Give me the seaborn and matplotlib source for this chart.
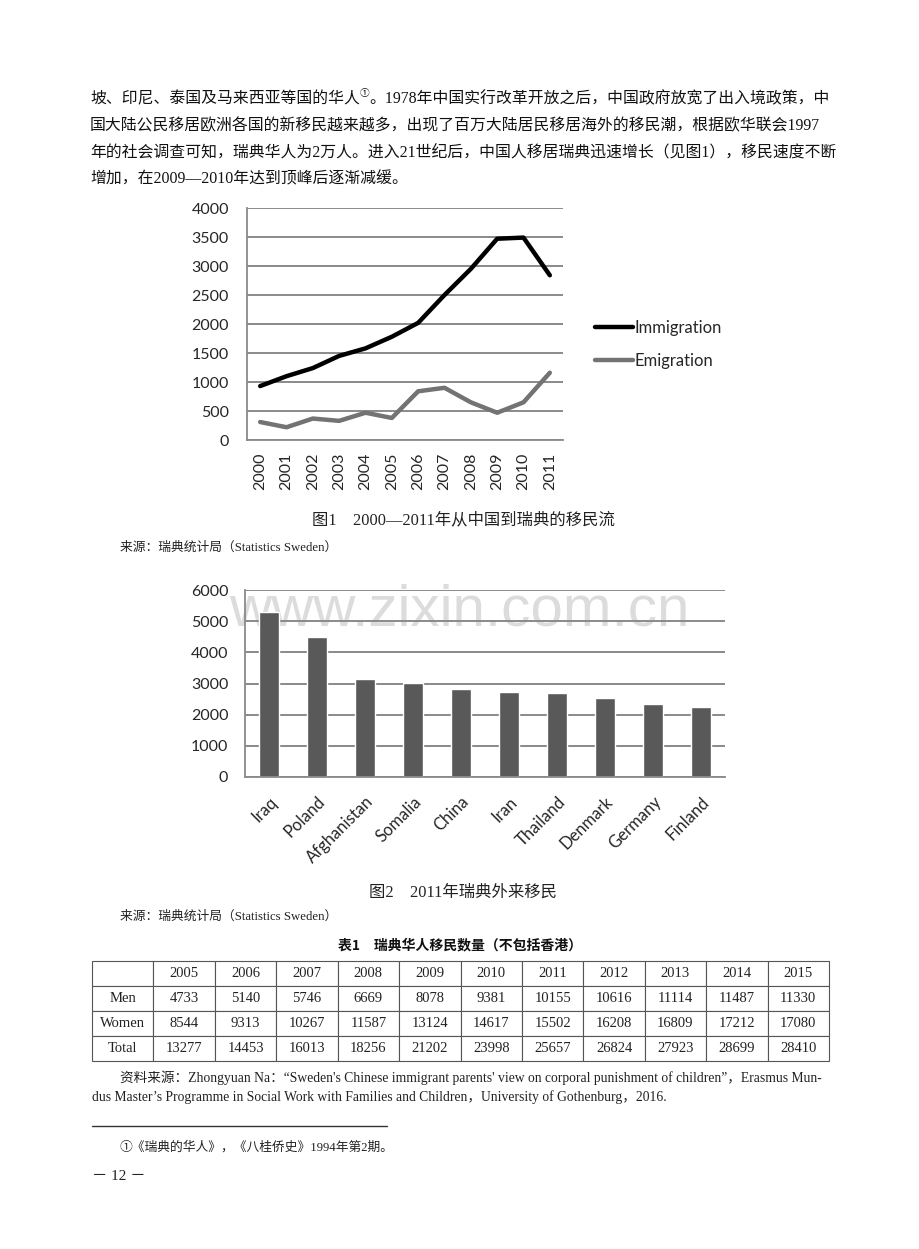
import numpy as np
import pandas as pd
import matplotlib
matplotlib.use("Agg")
import matplotlib.pyplot as plt
import seaborn as sns
from matplotlib.lines import Line2D

# ---------------- data ----------------
years = [2000, 2001, 2002, 2003, 2004, 2005, 2006, 2007, 2008, 2009, 2010, 2011]
immigration = [930, 1100, 1240, 1450, 1580, 1780, 2020, 2500, 2950, 3470, 3490, 2840]
emigration = [310, 220, 370, 330, 470, 380, 840, 900, 650, 470, 650, 1160]

countries = ["Iraq", "Poland", "Afghanistan", "Somalia", "China", "Iran",
             "Thailand", "Denmark", "Germany", "Finland"]
immigrants_2011 = [5300, 4480, 3160, 3010, 2820, 2730, 2680, 2550, 2350, 2260]

table_years = ["2005", "2006", "2007", "2008", "2009", "2010", "2011",
               "2012", "2013", "2014", "2015"]
men = [4733, 5140, 5746, 6669, 8078, 9381, 10155, 10616, 11114, 11487, 11330]
women = [8544, 9313, 10267, 11587, 13124, 14617, 15502, 16208, 16809, 17212, 17080]
total = [13277, 14453, 16013, 18256, 21202, 23998, 25657, 26824, 27923, 28699, 28410]

para_lines = [
    "国大陆公民移居欧洲各国的新移民越来越多，出现了百万大陆居民移居海外的移民潮，根据欧华联会1997",
    "年的社会调查可知，瑞典华人为2万人。进入21世纪后，中国人移居瑞典迅速增长（见图1），移民速度不断",
    "增加，在2009—2010年达到顶峰后逐渐减缓。",
]

# ---------------- style ----------------
sns.set_theme(style="white")
plt.rcParams["font.family"] = ["Lato", "Noto Sans CJK SC"]
SERIF = ["Liberation Serif", "Noto Sans CJK SC"]
CHART = ["Lato", "DejaVu Sans"]
GRID = "#8a8a8a"

W, H = 920, 1249
fig = plt.figure(figsize=(W / 100, H / 100), dpi=100)
bg = fig.add_axes([0, 0, 1, 1])
bg.set_axis_off()
bg.set_xlim(0, 1)
bg.set_ylim(0, 1)
bg.set_autoscale_on(False)
FT = fig.transFigure


def fx(x):
    return x / W


def fy(y):
    return 1 - y / H


def ftext(x, y, s, **kw):
    return bg.text(fx(x), fy(y), s, transform=FT, **kw)


# ---------------- paragraph ----------------
BODY = 11.4
a = ftext(90, 103, "坡、印尼、泰国及马来西亚等国的华人", fontsize=BODY,
          family=SERIF, va="baseline", ha="left", color="#111")
b = bg.annotate("①", xy=(1, 0.55), xycoords=a, fontsize=7, family=SERIF,
                va="bottom", ha="left", color="#111")
bg.annotate("。1978年中国实行改革开放之后，中国政府放宽了出入境政策，中",
            xy=(1, 0), xycoords=(b, a), fontsize=BODY, family=SERIF,
            va="bottom", ha="left", color="#111")
for i, line in enumerate(para_lines):
    ftext(90, 130 + 26.7 * i, line, fontsize=BODY, family=SERIF,
          va="baseline", ha="left", color="#111")

# ---------------- figure 1: line chart ----------------
ax1 = fig.add_axes([fx(247), fy(440), (563 - 247) / W, (440 - 208) / H])
df1 = pd.DataFrame({"year": years, "Immigration": immigration, "Emigration": emigration})
sns.lineplot(data=df1, x="year", y="Immigration", ax=ax1, color="black", lw=3.2,
             label="Immigration")
sns.lineplot(data=df1, x="year", y="Emigration", ax=ax1, color="#737373", lw=3.2,
             label="Emigration")
ax1.set_xlim(years[0] - 0.5, years[-1] + 0.5)
ax1.set_ylim(0, 4000)
ax1.set_yticks(np.arange(0, 4001, 500))
ax1.set_xticks(years)
ax1.set_xticklabels([str(y) for y in years], rotation=90, fontsize=11.5, family=CHART)
ax1.set_xticks(np.arange(years[0] - 0.5, years[-1] + 1), minor=True)
ax1.tick_params(axis="x", which="major", length=0, pad=9)
ax1.tick_params(axis="x", which="minor", length=5, width=1.2, color=GRID, direction="out")
ax1.tick_params(axis="y", length=5, width=1.2, color=GRID, direction="out", pad=8,
                labelsize=11.5)
for lab in ax1.get_yticklabels():
    lab.set_family(CHART)
ax1.set_axisbelow(True)
ax1.yaxis.grid(True, color=GRID, lw=1.4)
ax1.xaxis.grid(False)
for s in ["top", "right"]:
    ax1.spines[s].set_visible(False)
for s in ["left", "bottom"]:
    ax1.spines[s].set_color(GRID)
    ax1.spines[s].set_linewidth(1.3)
ax1.set_xlabel("")
ax1.set_ylabel("")
handles = [Line2D([], [], color="black", lw=3.2), Line2D([], [], color="#737373", lw=3.2)]
ax1.legend(handles, ["Immigration", "Emigration"], loc="center left",
           bbox_to_anchor=(fx(595), fy(344.5)), bbox_transform=FT,
           frameon=False, prop={"family": CHART, "size": 12}, handlelength=2.3,
           handletextpad=0.1, labelspacing=1.05, borderpad=0, borderaxespad=0)

ftext(463, 520, "图1　2000—2011年从中国到瑞典的移民流", fontsize=11.8,
      family=SERIF, ha="center", va="center", color="#222")
ftext(120, 548, "来源：瑞典统计局（Statistics Sweden）", fontsize=9.2,
      family=SERIF, ha="left", va="center", color="#222")

# ---------------- figure 2: bar chart ----------------
ax2 = fig.add_axes([fx(245), fy(777), (725 - 245) / W, (777 - 590) / H])
df2 = pd.DataFrame({"country": countries, "n": immigrants_2011})
sns.barplot(data=df2, x="country", y="n", ax=ax2, color="#595959", width=0.4,
            saturation=1)
ax2.set_xlim(-0.5, len(countries) - 0.5)
ax2.set_ylim(0, 6000)
ax2.set_yticks(np.arange(0, 6001, 1000))
ax2.set_xticks(np.arange(-0.5, len(countries)), minor=True)
ax2.set_xticks(range(len(countries)))
ax2.set_xticklabels(countries, rotation=45, ha="right", rotation_mode="anchor",
                    fontsize=12, family=CHART)
ax2.tick_params(axis="x", which="major", length=0, pad=12)
ax2.tick_params(axis="x", which="minor", length=5, width=1.2, color=GRID, direction="out")
ax2.tick_params(axis="y", length=5, width=1.2, color=GRID, direction="out", pad=7,
                labelsize=11.5)
for lab in ax2.get_yticklabels():
    lab.set_family(CHART)
ax2.set_axisbelow(True)
ax2.yaxis.grid(True, color=GRID, lw=1.4)
ax2.xaxis.grid(False)
for s in ["top", "right"]:
    ax2.spines[s].set_visible(False)
for s in ["left", "bottom"]:
    ax2.spines[s].set_color(GRID)
    ax2.spines[s].set_linewidth(1.3)
ax2.set_xlabel("")
ax2.set_ylabel("")
ax2.text(fx(459), fy(625), "www.zixin.com.cn", transform=FT,
         fontsize=42, family=["Liberation Sans"], color="#dcdcdc", ha="center",
         va="baseline", zorder=0.3)

ftext(463, 893, "图2　2011年瑞典外来移民", fontsize=11.8,
      family=SERIF, ha="center", va="center", color="#222")
ftext(120, 917, "来源：瑞典统计局（Statistics Sweden）", fontsize=9.2,
      family=SERIF, ha="left", va="center", color="#222")

# ---------------- table ----------------
ftext(460, 945, "表1　瑞典华人移民数量（不包括香港）", fontsize=10,
      family=["Noto Sans CJK SC"], weight="bold", ha="center", va="center",
      color="#111")
axt = fig.add_axes([fx(92), fy(1061), (829 - 92) / W, (1061 - 961) / H])
axt.set_axis_off()
rows = [[""] + table_years,
        ["Men"] + [str(v) for v in men],
        ["Women"] + [str(v) for v in women],
        ["Total"] + [str(v) for v in total]]
tbl = axt.table(cellText=rows, bbox=[0, 0, 1, 1], cellLoc="center")
tbl.auto_set_font_size(False)
for (r, c), cell in tbl.get_celld().items():
    cell.set_edgecolor("#555555")
    cell.set_linewidth(0.8)
    cell.get_text().set_fontsize(10.5)
    cell.get_text().set_fontfamily(SERIF)
    cell.get_text().set_color("#222")

ftext(120, 1078,
      "资料来源：Zhongyuan Na：“Sweden's Chinese immigrant parents' view on corporal punishment of children”，Erasmus Mun-",
      fontsize=9.8, family=SERIF, ha="left", va="center", color="#222")
ftext(92, 1097,
      "dus Master’s Programme in Social Work with Families and Children，University of Gothenburg，2016.",
      fontsize=9.8, family=SERIF, ha="left", va="center", color="#222")

# ---------------- footnote ----------------
bg.plot([fx(92), fx(387)], [fy(1126), fy(1126)], color="#333", lw=1, transform=FT)
ftext(120, 1147, "①《瑞典的华人》，《八桂侨史》1994年第2期。", fontsize=9.2,
      family=SERIF, ha="left", va="center", color="#222")
ftext(92, 1176, "－ 12 －", fontsize=11, family=SERIF, ha="left",
      va="center", color="#222")

fig.savefig("out.png", dpi=100)
